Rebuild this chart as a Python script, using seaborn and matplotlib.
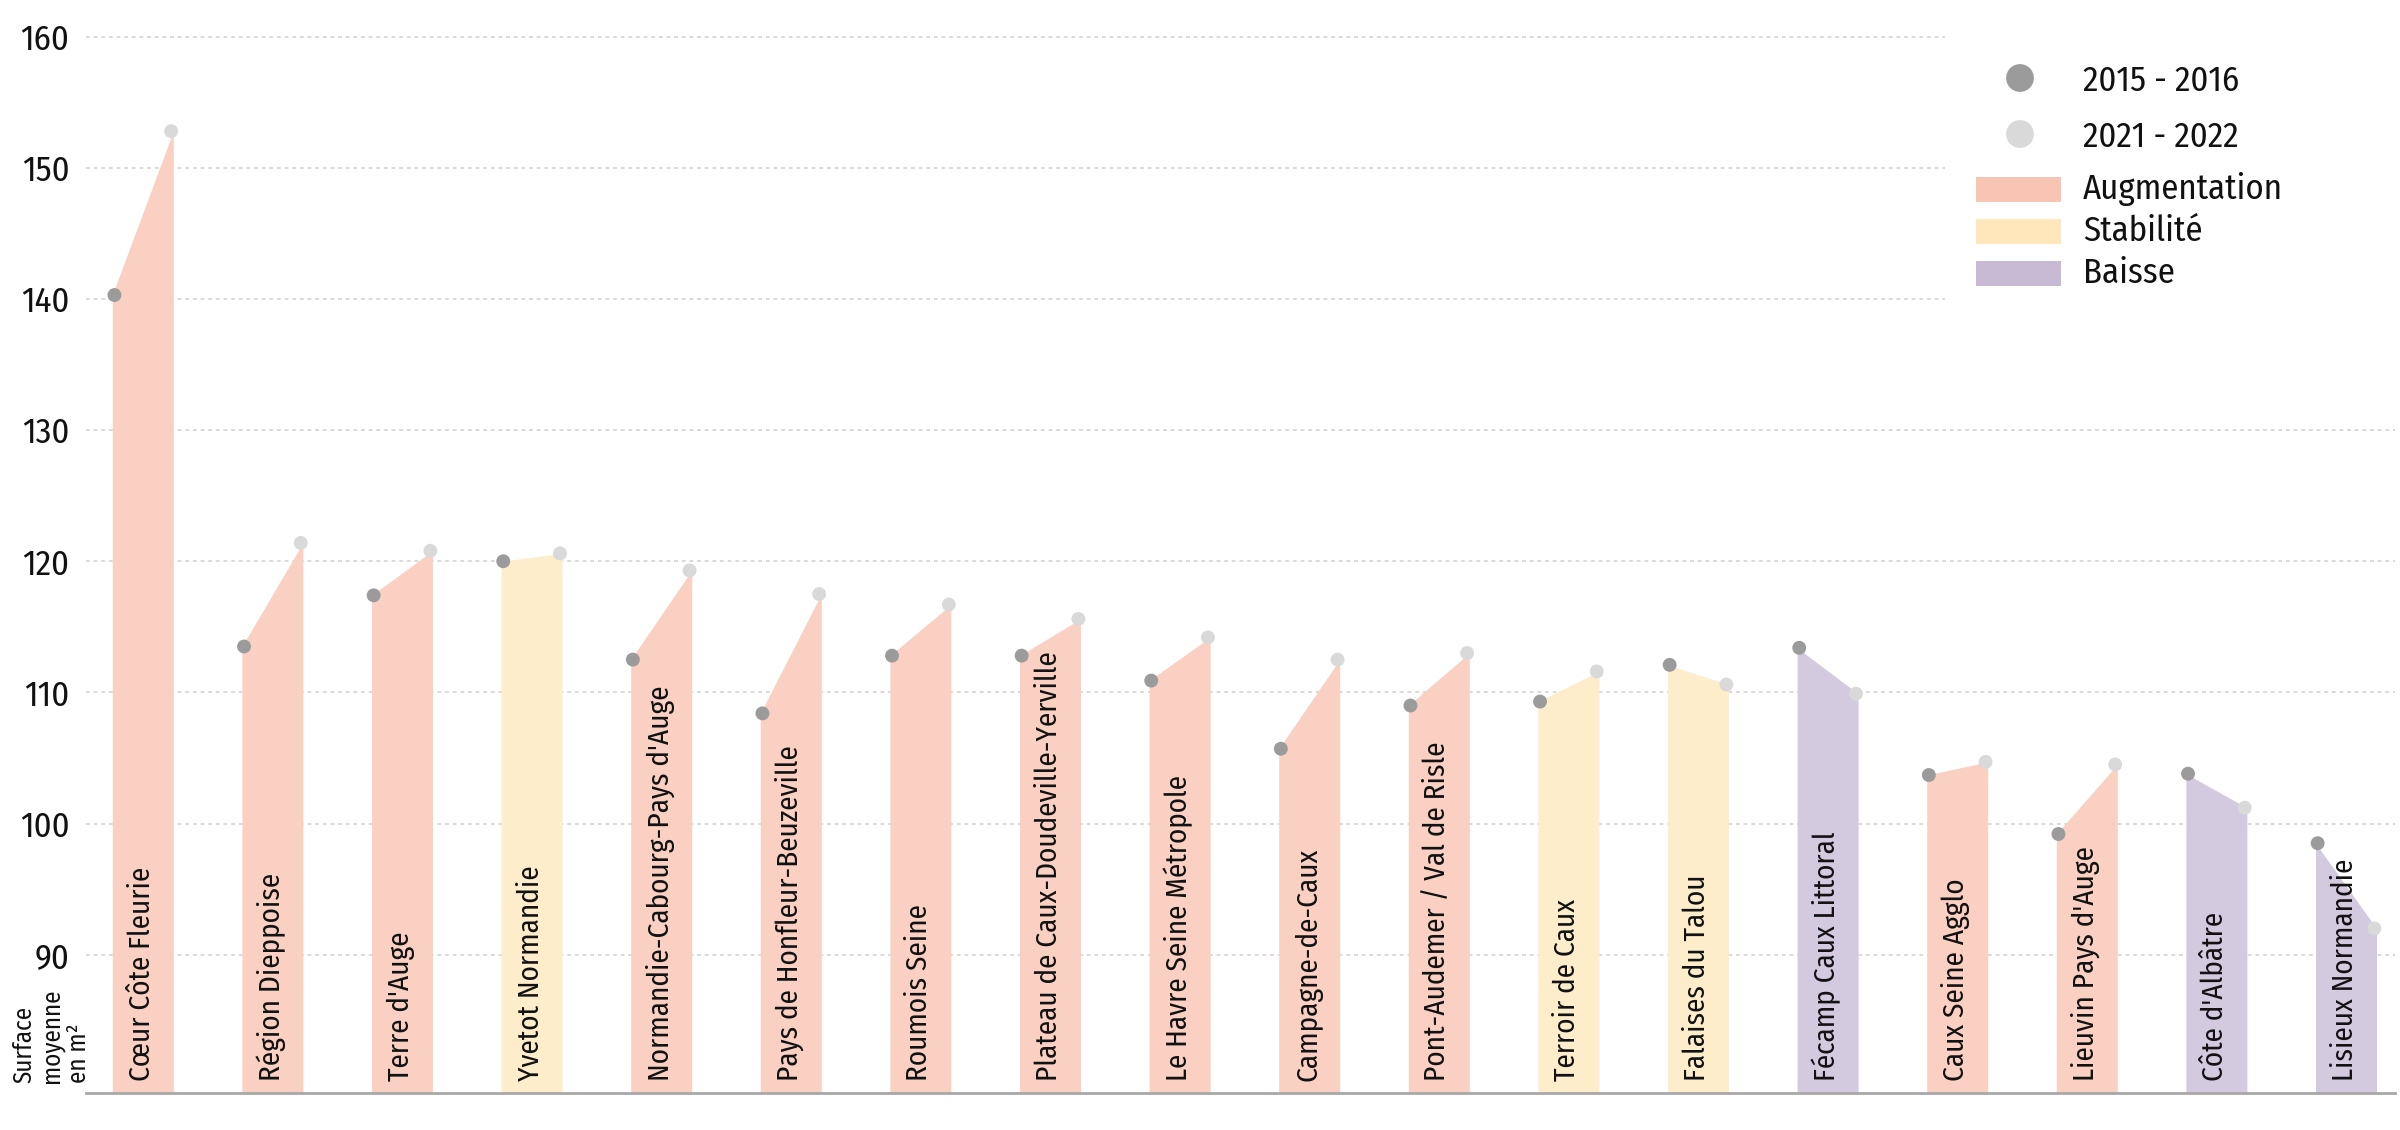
import matplotlib
matplotlib.use("Agg")
import matplotlib.pyplot as plt
from matplotlib.patches import Rectangle
import seaborn as sns
import pandas as pd

# ---------------- data ----------------
territoires = [
    "Cœur Côte Fleurie", "Région Dieppoise", "Terre d'Auge", "Yvetot Normandie",
    "Normandie-Cabourg-Pays d'Auge", "Pays de Honfleur-Beuzeville", "Roumois Seine",
    "Plateau de Caux-Doudeville-Yerville", "Le Havre Seine Métropole", "Campagne-de-Caux",
    "Pont-Audemer / Val de Risle", "Terroir de Caux", "Falaises du Talou",
    "Fécamp Caux Littoral", "Caux Seine Agglo", "Lieuvin Pays d'Auge",
    "Côte d'Albâtre", "Lisieux Normandie",
]
surface_2015 = [140.3, 113.5, 117.4, 120.0, 112.5, 108.4, 112.8, 112.8, 110.9,
                105.7, 109.0, 109.3, 112.1, 113.4, 103.7, 99.2, 103.8, 98.5]
surface_2021 = [152.8, 121.4, 120.8, 120.6, 119.3, 117.5, 116.7, 115.6, 114.2,
                112.5, 113.0, 111.6, 110.6, 109.9, 104.7, 104.5, 101.2, 92.0]
evolution = ["Augmentation", "Augmentation", "Augmentation", "Stabilité",
             "Augmentation", "Augmentation", "Augmentation", "Augmentation",
             "Augmentation", "Augmentation", "Augmentation", "Stabilité",
             "Stabilité", "Baisse", "Augmentation", "Augmentation", "Baisse", "Baisse"]
periodes = ["2015 - 2016", "2021 - 2022"]
categories_evolution = ["Augmentation", "Stabilité", "Baisse"]
yticks = [90, 100, 110, 120, 130, 140, 150, 160]
y_label = "Surface\nmoyenne\nen m²"

# ---------------- style ----------------
fill_colors = {"Augmentation": "#F9D0C2", "Stabilité": "#FDEDCA", "Baisse": "#D4CAE0"}
legend_colors = {"Augmentation": "#F8C5B4", "Stabilité": "#FFE7BB", "Baisse": "#C8B9D4"}
point_colors = {"2015 - 2016": "#9B9B9B", "2021 - 2022": "#D9D9D9"}

sns.set_theme(style="white")
plt.rcParams["font.family"] = ["Fira Sans Condensed", "DejaVu Sans"]
plt.rcParams["text.color"] = "#111111"

W, H = 2400, 1130
fig = plt.figure(figsize=(W / 100, H / 100), dpi=100)
ax_left, ax_right = 86, 2395
base_px, top_px = 1093, 0
ax = fig.add_axes([ax_left / W, (H - base_px) / H, (ax_right - ax_left) / W, (base_px - top_px) / H])

# x geometry (category units)
step_px, c0_px = 129.6, 142.8
hw = 30.5 / step_px
ymin, ymax = 79.45, 162.8
ax.set_xlim((ax_left - c0_px) / step_px, (ax_right - c0_px) / step_px)
ax.set_ylim(ymin, ymax)

# long-form frame
rows = []
for i, (t, a, b, e) in enumerate(zip(territoires, surface_2015, surface_2021, evolution)):
    rows.append({"Territoire": t, "Période": periodes[0], "Surface": a, "x": i - hw * 0.93, "Evolution": e})
    rows.append({"Territoire": t, "Période": periodes[1], "Surface": b, "x": i + hw * 0.93, "Evolution": e})
df = pd.DataFrame(rows)

# shaded shapes
for i, (a, b, e) in enumerate(zip(surface_2015, surface_2021, evolution)):
    ax.fill_between([i - hw, i + hw], [ymin, ymin], [a, b], color=fill_colors[e], lw=0, zorder=1)
    ax.text(i - 0.01, ymin + 0.9, territoires[i], rotation=90, ha="center", va="bottom",
            fontsize=21, color="#111111", zorder=4)

# points
sns.scatterplot(data=df, x="x", y="Surface", hue="Période", palette=point_colors,
                 s=100, edgecolor="none", linewidth=0, legend=False, ax=ax, zorder=3, clip_on=False)

# axes styling
ax.set_yticks(yticks)
ax.set_xticks([])
ax.tick_params(axis="y", length=0, pad=12, labelsize=25, labelcolor="#111111")
ax.yaxis.grid(True, linestyle=(0, (2.5, 2.5)), color="#CFCFCF", lw=1.1)
ax.set_axisbelow(True)
for s in ["top", "right", "left"]:
    ax.spines[s].set_visible(False)
ax.spines["bottom"].set_color("#A8A8A8")
ax.spines["bottom"].set_linewidth(2)
ax.set_xlabel("")
ax.set_ylabel("")

# y label bottom-left
fig.text(12 / W, (H - 1083) / H, y_label, rotation=90, ha="left", va="bottom",
         fontsize=18, linespacing=1.1, color="#111111")

# legend overlay (pixel coordinates)
lax = fig.add_axes([0, 0, 1, 1], zorder=5)
lax.set_xlim(0, W)
lax.set_ylim(H, 0)
lax.axis("off")
lax.add_patch(Rectangle((1945, 0), 455, 318, facecolor="white", edgecolor="none"))
for k, p in enumerate(periodes):
    yy = 78 + 56 * k
    lax.scatter([2020], [yy], s=400, color=point_colors[p], edgecolor="none")
    lax.text(2083, yy + 3, p, fontsize=25, va="center", ha="left", color="#111111")
for k, c in enumerate(categories_evolution):
    yy = 189 + 42 * k
    lax.add_patch(Rectangle((1976, yy - 12.5), 85, 25, facecolor=legend_colors[c], edgecolor="none"))
    lax.text(2083, yy, c, fontsize=25, va="center", ha="left", color="#111111")

fig.savefig("out.png", dpi=100)
